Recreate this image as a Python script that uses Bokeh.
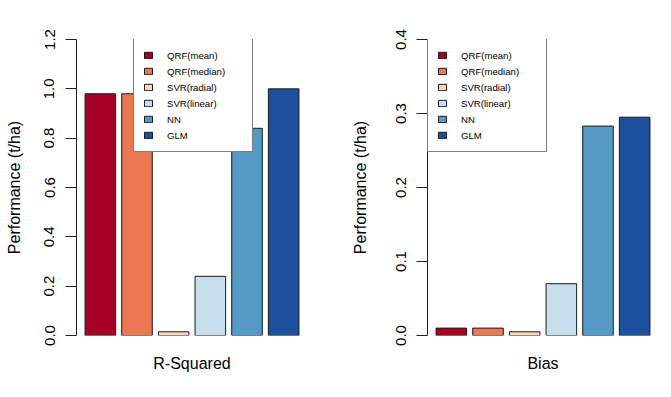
import math
from bokeh.plotting import figure
from bokeh.layouts import row
from bokeh.models import ColumnDataSource, FixedTicker, Legend, LegendItem
from bokeh.embed import file_html
from bokeh.resources import INLINE

# ---- data ----
models = ["QRF(mean)", "QRF(median)", "SVR(radial)", "SVR(linear)", "NN", "GLM"]
colors = ["#A50026", "#EB7852", "#FDD5BC", "#C7DFEC", "#5599C7", "#1C509C"]
r_squared = [0.98, 0.98, 0.015, 0.24, 0.84, 1.00]
bias = [0.010, 0.010, 0.005, 0.070, 0.283, 0.295]
r2_ticks = ["0.0", "0.2", "0.4", "0.6", "0.8", "1.0", "1.2"]
bias_ticks = ["0.0", "0.1", "0.2", "0.3", "0.4"]
panel_labels = ["R-Squared", "Bias"]
y_label = "Performance (t/ha)"

FONT = "Liberation Sans"

# R barplot geometry: bar width 1, space 0.2
xs = [0.2 + 1.2 * i + 0.5 for i in range(len(models))]
x_lo, x_hi = 0.2, 0.2 + 1.2 * len(models) - 0.2
pad = 0.04 * (x_hi - x_lo)


def make_panel(values, ticks, xlabel, border_left, border_right,
               ylab_standoff, legend_x):
    tick_vals = [float(t) for t in ticks]
    p = figure(
        frame_width=231, frame_height=296,
        x_range=(x_lo - pad, x_hi + pad),
        y_range=(tick_vals[0], tick_vals[-1]),
        min_border_left=border_left, min_border_right=border_right,
        min_border_top=39, min_border_bottom=54,
        output_backend="svg", toolbar_location=None,
        background_fill_color="white", border_fill_color="white",
    )
    p.outline_line_color = None
    p.xgrid.visible = False
    p.ygrid.visible = False

    src = ColumnDataSource(dict(x=xs, top=values, color=colors, model=models))
    r = p.vbar(x="x", top="top", bottom=0, width=1.0, source=src,
               fill_color="color", line_color="#1a1a1a", line_width=1)

    # y axis
    ya = p.yaxis[0]
    ya.ticker = FixedTicker(ticks=tick_vals)
    ya.major_label_overrides = {v: t for v, t in zip(tick_vals, ticks)}
    ya.minor_tick_line_color = None
    ya.major_tick_in = 0
    ya.major_tick_out = 11
    ya.axis_line_color = "#222222"
    ya.major_tick_line_color = "#222222"
    ya.major_label_orientation = "vertical"
    ya.major_label_standoff = 11
    ya.major_label_text_font = FONT
    ya.major_label_text_font_size = "15px"
    ya.major_label_text_color = "black"
    ya.axis_label = y_label
    ya.axis_label_text_font = FONT
    ya.axis_label_text_font_size = "16px"
    ya.axis_label_text_font_style = "normal"
    ya.axis_label_text_color = "black"
    ya.axis_label_standoff = ylab_standoff

    # x axis: label only
    xa = p.xaxis[0]
    xa.ticker = FixedTicker(ticks=[])
    xa.axis_line_color = None
    xa.major_tick_line_color = None
    xa.minor_tick_line_color = None
    xa.major_tick_out = 0
    xa.major_tick_in = 0
    xa.major_label_standoff = 0
    xa.axis_label = xlabel
    xa.axis_label_text_font = FONT
    xa.axis_label_text_font_size = "16px"
    xa.axis_label_text_font_style = "normal"
    xa.axis_label_text_color = "black"
    xa.axis_label_standoff = 19

    items = [LegendItem(label=m, renderers=[r], index=i) for i, m in enumerate(models)]
    leg = Legend(
        items=items, location=(legend_x, 296 - 112 - 1), orientation="vertical",
        border_line_color="black", border_line_width=1,
        background_fill_color="white", background_fill_alpha=1.0,
        padding=9, spacing=2, margin=0,
        glyph_width=10, glyph_height=8, label_height=14, label_width=76,
        label_standoff=14,
        label_text_font=FONT, label_text_font_size="9.6px",
        label_text_color="black",
    )
    p.add_layout(leg, "center")
    return p


left = make_panel(r_squared, r2_ticks, panel_labels[0], 76, 28, 19, 57)
right = make_panel(bias, bias_ticks, panel_labels[1], 92, 5, 24, 0)

layout = row(left, right)
open("out.html", "w").write(file_html(layout, INLINE))
